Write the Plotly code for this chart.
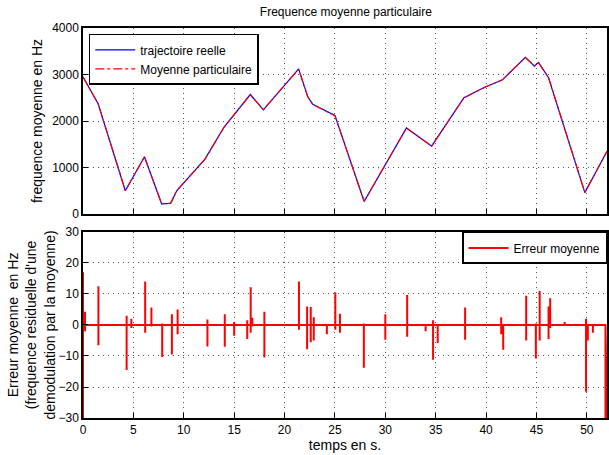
import plotly.graph_objects as go
from plotly.subplots import make_subplots

# top plot: mean frequency trajectory (vertices)
temps_traj = [0, 1.5, 4.2, 6.1, 7.8, 8.7, 9.3, 12.1, 14.0, 16.6, 17.9, 21.4, 22.3,
              22.8, 25.0, 27.9, 32.1, 34.6, 37.8, 39.9, 41.6, 43.9, 44.8, 45.2,
              46.2, 49.8, 52.0]
trajectoire_reelle = [2950, 2370, 500, 1230, 220, 230, 500, 1180, 1870, 2570, 2240,
                      3120, 2520, 2360, 2120, 270, 1850, 1460, 2500, 2730, 2880,
                      3370, 3180, 3260, 2930, 460, 1350]
moyenne_particulaire = [2945, 2375, 505, 1225, 225, 235, 505, 1175, 1865, 2565, 2245,
                        3115, 2525, 2355, 2115, 275, 1845, 1465, 2495, 2725, 2885,
                        3365, 3185, 3255, 2935, 465, 1345]

# bottom plot: residual error spikes (time, max, min)
spike_t = [0.0, 0.2, 1.53, 4.33, 4.8, 6.17, 6.79, 7.86, 8.82, 9.39, 12.35, 14.07,
           15.0, 16.3, 16.64, 16.8, 18.0, 21.43, 22.24, 22.6, 22.9, 24.2, 25.04,
           25.5, 27.87, 30.0, 32.17, 34.0, 34.74, 35.2, 37.92, 41.5, 41.7, 43.98,
           44.94, 45.32, 46.2, 46.36, 47.8, 49.92, 50.1, 50.6, 51.85]
spike_hi = [17, 4.3, 12.5, 3, 2, 14, 5.6, 0.5, 3.5, 5, 1.8, 3.5,
            1, 1.5, 12.2, 2.3, 4.3, 14, 6, 5.8, 2.5, 0, 10.5,
            3.6, 0.5, 3.5, 9.7, 0, 1.5, 0, 5.6, 2.5, 0, 9.4,
            0.5, 11, 6, 8.6, 1, 2, 0, 0, 0]
spike_lo = [-30, -2, -6.5, -14.5, -1, -2.5, -0.5, -10.3, -9.5, -3, -6.9, -7,
            -3.5, -4.5, -2.5, -0.5, -10.5, -1.5, -7.8, -5.6, -5, -3, -1.5,
            -2.5, -13.8, -4.8, -3.8, -2, -11.2, -5.8, -4.8, -3, -8, -5,
            -10.8, -5, -4.5, -1, 0, -21.5, -5, -2.5, -30]

err_x, err_y = [], []
for t, hi, lo in zip(spike_t, spike_hi, spike_lo):
    err_x += [t, t, t, t]
    err_y += [0, hi, lo, 0]
err_x.append(52)
err_y.append(-30)

fig = make_subplots(rows=2, cols=1, shared_xaxes=False, vertical_spacing=0.046)

fig.add_trace(go.Scatter(x=temps_traj, y=trajectoire_reelle, mode='lines',
                         name='trajectoire reelle',
                         line=dict(color='#0000ff', width=1.2)), row=1, col=1)
fig.add_trace(go.Scatter(x=temps_traj, y=moyenne_particulaire, mode='lines',
                         name='Moyenne particulaire',
                         line=dict(color='#ff0000', width=1.2, dash='dashdot')),
              row=1, col=1)
fig.add_trace(go.Scatter(x=err_x, y=err_y, mode='lines', name='Erreur moyenne',
                         legend='legend2',
                         line=dict(color='#ff0000', width=2)), row=2, col=1)

axis_style = dict(showline=True, mirror=True, linecolor='black', linewidth=1.5,
                  ticks='inside', ticklen=5, tickcolor='black',
                  showgrid=True, gridcolor='#555555', griddash='1px,4px', gridwidth=1,
                  zeroline=False)

fig.update_xaxes(range=[0, 52], dtick=5, tick0=0, **axis_style)
fig.update_xaxes(showticklabels=False, row=1, col=1)
fig.update_xaxes(title=dict(text='temps en s.', standoff=2), row=2, col=1)
fig.update_yaxes(**axis_style)
fig.update_yaxes(range=[0, 4000], dtick=1000,
                 title=dict(text='frequence moyenne en Hz', standoff=6),
                 row=1, col=1)
fig.update_yaxes(range=[-30, 30], dtick=10,
                 title=dict(text='Erreur moyenne  en Hz<br>(frequence residuelle d\'une'
                                 '<br>demodulation par la moyenne)', standoff=0),
                 row=2, col=1)

fig.update_layout(
    width=609, height=455,
    margin=dict(l=83, r=0, t=28, b=37),
    paper_bgcolor='white', plot_bgcolor='white',
    font=dict(family='Liberation Sans, Arial', size=12, color='black'),
    title=dict(text='Frequence moyenne particulaire', x=0.568, xanchor='center',
               y=0.975, yanchor='middle', font=dict(size=12)),
    legend=dict(x=0.011, y=0.985, xanchor='left', yanchor='top',
                bgcolor='white', bordercolor='black', borderwidth=1.5,
                font=dict(size=12), tracegroupgap=0, itemwidth=40),
    legend2=dict(x=1.0, y=0.477, xanchor='right', yanchor='top',
                 bgcolor='white', bordercolor='black', borderwidth=1.5,
                 font=dict(size=12), itemwidth=40),
    showlegend=True,
)

fig.write_html("out.html", config={'displayModeBar': False},
               post_script="document.body.style.margin='0';")
